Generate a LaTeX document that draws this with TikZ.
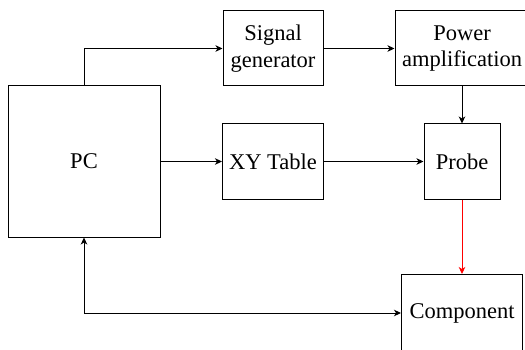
\documentclass[tikz,border=0pt]{standalone}
\usepackage{fontspec}
\setmainfont{Liberation Serif}
\usetikzlibrary{arrows.meta}
\begin{document}
\begin{tikzpicture}[x=1pt,y=-1pt,
  font=\rmfamily\fontsize{22.5}{26.5}\selectfont,
  box/.style={draw, line width=1pt, align=center, inner sep=0pt, minimum height=75pt},
  arr/.style={line width=1pt, -{Stealth[length=7pt,width=6.5pt,inset=2pt]}},
  darr/.style={line width=1pt, {Stealth[length=7pt,width=6.5pt,inset=2pt]}-{Stealth[length=7pt,width=6.5pt,inset=2pt]}}]
\useasboundingbox (0,0) rectangle (525,350);
\clip (0,0) rectangle (525,350);
\node[box, minimum width=152pt, minimum height=151pt] (pc) at (84,161.5) {PC};
\node[box, minimum width=100pt] (sg) at (273,48.5) {Signal\\generator};
\node[box, minimum width=134pt] (pa) at (462,48.5) {Power\\amplification};
\node[box, minimum width=101pt] (xy) at (273,161.5) {XY Table};
\node[box, minimum width=76pt] (probe) at (462,161.5) {Probe};
\node[box, minimum width=121pt, minimum height=77pt] (comp) at (462,313) {Component};
\draw[arr] (pc.north) |- (sg.west);
\draw[arr] (sg.east) -- (pa.west);
\draw[arr] (pa.south) -- (probe.north);
\draw[arr] (pc.east) -- (xy.west);
\draw[arr] (xy.east) -- (probe.west);
\draw[arr, red] (probe.south) -- (comp.north);
\draw[darr] (comp.west) -| (pc.south);
\end{tikzpicture}
\end{document}
